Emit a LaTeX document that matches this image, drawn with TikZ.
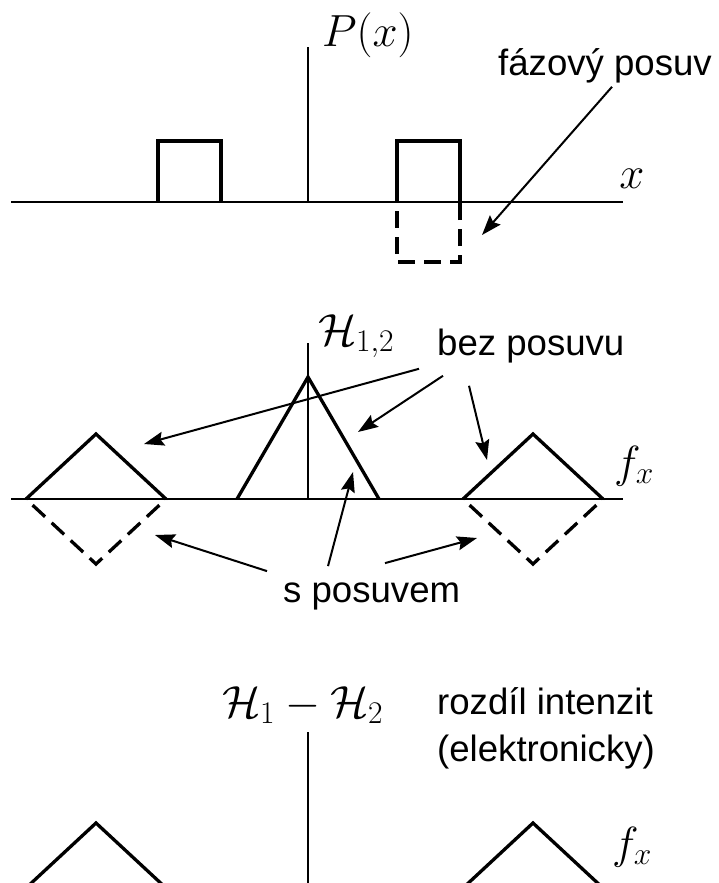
\RequirePackage{fix-cm}
\documentclass[tikz,border=0pt]{standalone}
\usepackage{fontspec}
\setmainfont{Liberation Sans}
\usepackage{amsmath}
\usetikzlibrary{arrows.meta,positioning}
\newcommand{\txtsize}{\fontsize{36.6}{47}\selectfont}
\newcommand{\mthsize}{\fontsize{45}{54}\selectfont}

\begin{document}
\begin{tikzpicture}[x=1pt,y=-1pt,>={Stealth[length=20pt,width=14pt,inset=3pt]}]
\tikzstyle{axis}=[line width=2.2pt]
\tikzstyle{yaxis}=[line width=1.8pt]
\tikzstyle{curve}=[line width=3.3pt]
\tikzstyle{shifted}=[curve,dash pattern=on 17pt off 9pt,dash phase=17pt]
\tikzstyle{pointer}=[->,line width=2pt]
\tikzstyle{word}=[inner sep=0pt,font=\txtsize]
\tikzstyle{sym}=[inner sep=0pt,font=\mthsize]
\useasboundingbox (0,0) rectangle (719,883);
\clip (0,0) rectangle (719,883);

% aperture P(x)
\draw[axis] (11,202) -- (623,202);
\draw[yaxis] (308,202) -- (308,47);
\node[sym,anchor=base west] (Plbl) at (322,47) {$P(x)$};
\node[sym,anchor=base] (xlbl) at (632,188) {$x$};
\draw[curve] (158,202) -- (158,141) -- (221,141) -- (221,202);
\draw[curve] (397,202) -- (397,141) -- (460,141) -- (460,202);
\draw[shifted] (397,202) -- (397,262) -- (460,262) -- (460,202);
\node[word,anchor=base west] (phase) at (498,75) {fázový posuv};
\coordinate (phasetip) at (482,235);
\draw[pointer] ([xshift=7pt,yshift=-4pt]phase.south) -- (phasetip);

% spectrum H_{1,2}
\draw[axis] (11,499) -- (623,499);
\draw[yaxis] (308,499) -- (308,343);
\node[sym,anchor=base west] (Hlbl) at (318,345) {$\mathcal{H}_{1,2}$};
\node[sym,anchor=base west] (fxlbl) at (614,477) {$f_x$};
\draw[curve] (26,499) -- (96,434) -- (166,499);
\draw[shifted] (26,499) -- (96,564) -- (166,499);
\draw[curve] (237,499) -- (308,377) -- (379,499);
\draw[curve] (463,499) -- (533,434) -- (603,499);
\draw[shifted] (463,499) -- (533,564) -- (603,499);
\node[word,anchor=base west] (noshift) at (437,355) {bez posuvu};
\node[word,anchor=base west] (withshift) at (283,602) {s posuvem};
\coordinate (lefttip) at (144,444);
\coordinate (midtip) at (358,432);
\coordinate (righttip) at (487,460);
\coordinate (ldashtip) at (155,535);
\coordinate (mdashtip) at (353,472);
\coordinate (rdashtip) at (477,538);
\draw[pointer] ([xshift=-18pt,yshift=-6pt]noshift.south west) -- (lefttip);
\draw[pointer] ([xshift=6pt,yshift=-13pt]noshift.south west) -- (midtip);
\draw[pointer] ([xshift=32pt,yshift=-23pt]noshift.south west) -- (righttip);
\draw[pointer] ([xshift=-16pt,yshift=11pt]withshift.north west) -- (ldashtip);
\draw[pointer] ([xshift=45pt,yshift=16pt]withshift.north west) -- (mdashtip);
\draw[pointer] ([xshift=102pt,yshift=19pt]withshift.north west) -- (rdashtip);

% difference H_1 - H_2
\draw[yaxis] (308,888) -- (308,732);
\node[sym,anchor=base west] (Dlbl) at (222,717) {$\mathcal{H}_1-\mathcal{H}_2$};
\node[word,anchor=north west,align=left] (diff) at (437,687) {rozdíl intenzit\\(elektronicky)};
\node[sym,anchor=base west] (fxlow) at (612,858) {$f_x$};
\draw[curve] (26,888) -- (96,823) -- (166,888);
\draw[curve] (463,888) -- (533,823) -- (603,888);
\end{tikzpicture}
\end{document}
